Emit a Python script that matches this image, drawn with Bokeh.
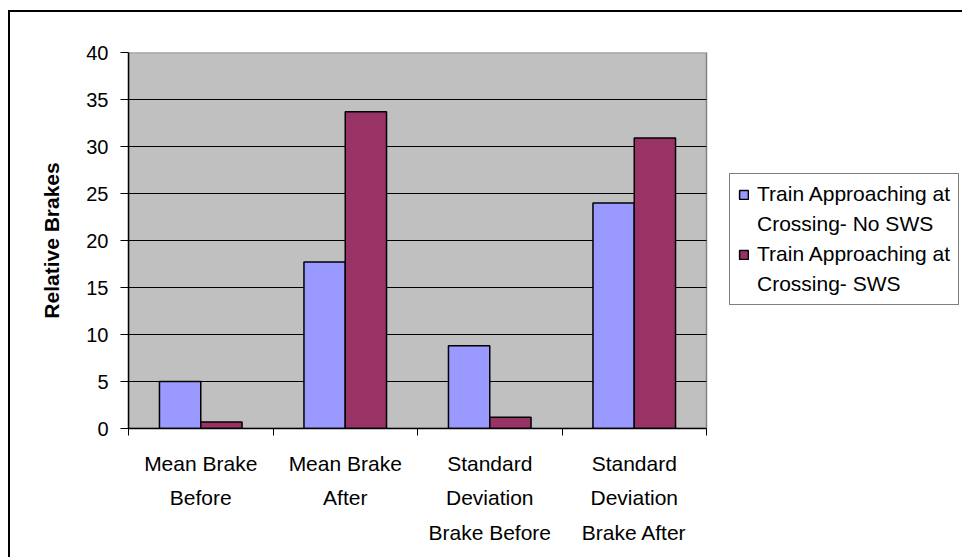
from bokeh.plotting import figure
from bokeh.models import Range1d, LinearAxis, FixedTicker, Legend, LegendItem, ColumnDataSource
from bokeh.embed import file_html
from bokeh.resources import INLINE

# Data
categories = ["Mean Brake\nBefore", "Mean Brake\nAfter",
              "Standard\nDeviation\nBrake Before", "Standard\nDeviation\nBrake After"]
no_sws = [5.0, 17.7, 8.8, 24.0]
sws = [0.7, 33.7, 1.2, 30.9]
series_lines = [["Train Approaching at", "Crossing- No SWS"],
                ["Train Approaching at", "Crossing- SWS"]]
y_ticks = [0, 5, 10, 15, 20, 25, 30, 35, 40]

FONT = "Liberation Sans"
BLUE = "#9999FF"
PLUM = "#993366"
AREA = "#C0C0C0"

n = len(categories)
centers = [i + 0.5 for i in range(n)]
w = 1 / 3.5  # bar width, gap width 150%

# Layout: the frame runs to the right edge so the legend can sit beside the plot area
FIG_W, FIG_H = 954, 547
LEFT, TOP, BOTTOM = 118, 40, 131
PLOT_W = 578  # width of the grey plot area in pixels
frame_w = FIG_W - LEFT
x_end = n * frame_w / PLOT_W

source = ColumnDataSource(data=dict(
    x_a=[c - w / 2 for c in centers], x_b=[c + w / 2 for c in centers],
    no_sws=no_sws, sws=sws))

p = figure(width=FIG_W, height=FIG_H, output_backend="svg", toolbar_location=None,
           x_range=Range1d(0, x_end), y_range=Range1d(y_ticks[0], y_ticks[-1]),
           x_axis_location=None,
           min_border_left=LEFT, min_border_right=0, min_border_top=TOP,
           min_border_bottom=BOTTOM)

# Chart area border (left and top edges; the rest runs past the page)
p.styles = {"margin-left": "10px", "margin-top": "12px",
            "box-shadow": "-2px -2px 0 0 black"}

p.background_fill_color = "white"
p.border_fill_color = "white"
p.outline_line_color = None
p.xgrid.grid_line_color = None
p.ygrid.grid_line_color = None

# Grey plot area with its border
p.quad(left=[0], right=[n], bottom=[y_ticks[0]], top=[y_ticks[-1]],
       fill_color=AREA, line_color="#808080", line_width=1.5)

# Horizontal gridlines across the plot area
grid_vals = y_ticks[1:-1]
p.segment(x0=[0] * len(grid_vals), x1=[n] * len(grid_vals), y0=grid_vals, y1=grid_vals,
          line_color="black", line_width=1)

# Y axis
ya = p.yaxis[0]
ya.ticker = FixedTicker(ticks=y_ticks)
ya.axis_line_color = "black"
ya.axis_line_width = 1.5
ya.major_tick_out = 8
ya.major_tick_in = 0
ya.minor_tick_line_color = None
ya.major_label_standoff = 12
ya.major_label_text_font = FONT
ya.major_label_text_font_size = "20px"
ya.major_label_text_color = "black"
ya.axis_label = "Relative Brakes"
ya.axis_label_text_font = FONT
ya.axis_label_text_font_size = "21px"
ya.axis_label_text_font_style = "bold"
ya.axis_label_text_color = "black"
ya.axis_label_standoff = 20

# Tick marks at category boundaries
tick_axis = LinearAxis(ticker=FixedTicker(ticks=list(range(n + 1))), bounds=(0, n),
                       major_label_overrides={i: "" for i in range(n + 1)},
                       major_label_text_font_size="1px", major_label_standoff=0,
                       axis_line_color="black", axis_line_width=1.5,
                       major_tick_out=7, major_tick_in=0, minor_tick_line_color=None)
p.add_layout(tick_axis, "below")

# Category labels centred under each group
cat_axis = LinearAxis(ticker=FixedTicker(ticks=centers),
                      major_label_overrides={c: lab for c, lab in zip(centers, categories)},
                      axis_line_color=None, major_tick_line_color=None,
                      minor_tick_line_color=None, major_label_standoff=10,
                      major_label_text_font=FONT, major_label_text_font_size="21px",
                      major_label_text_line_height=1.5,
                      major_label_text_color="black")
p.add_layout(cat_axis, "below")

# Bars
r1 = p.vbar(x="x_a", top="no_sws", width=w, source=source,
            fill_color=BLUE, line_color="black", line_width=1.5)
r2 = p.vbar(x="x_b", top="sws", width=w, source=source,
            fill_color=PLUM, line_color="black", line_width=1.5)

# Continuation lines of the legend labels carry no swatch
blank = p.vbar(x=[], top=[], width=w, fill_alpha=0, line_alpha=0)

items = []
for r, (first, second) in zip([r1, r2], series_lines):
    items.append(LegendItem(label=first, renderers=[r]))
    items.append(LegendItem(label=second, renderers=[blank]))

legend = Legend(items=items, location=(PLOT_W + 23, 123), border_line_color="black",
                border_line_width=1, background_fill_color="white",
                label_text_font=FONT, label_text_font_size="21px", label_text_color="black",
                label_height=24, glyph_width=11, glyph_height=11,
                label_standoff=8, padding=8, spacing=6, margin=0)
p.add_layout(legend)

open("out.html", "w").write(file_html(p, INLINE))
